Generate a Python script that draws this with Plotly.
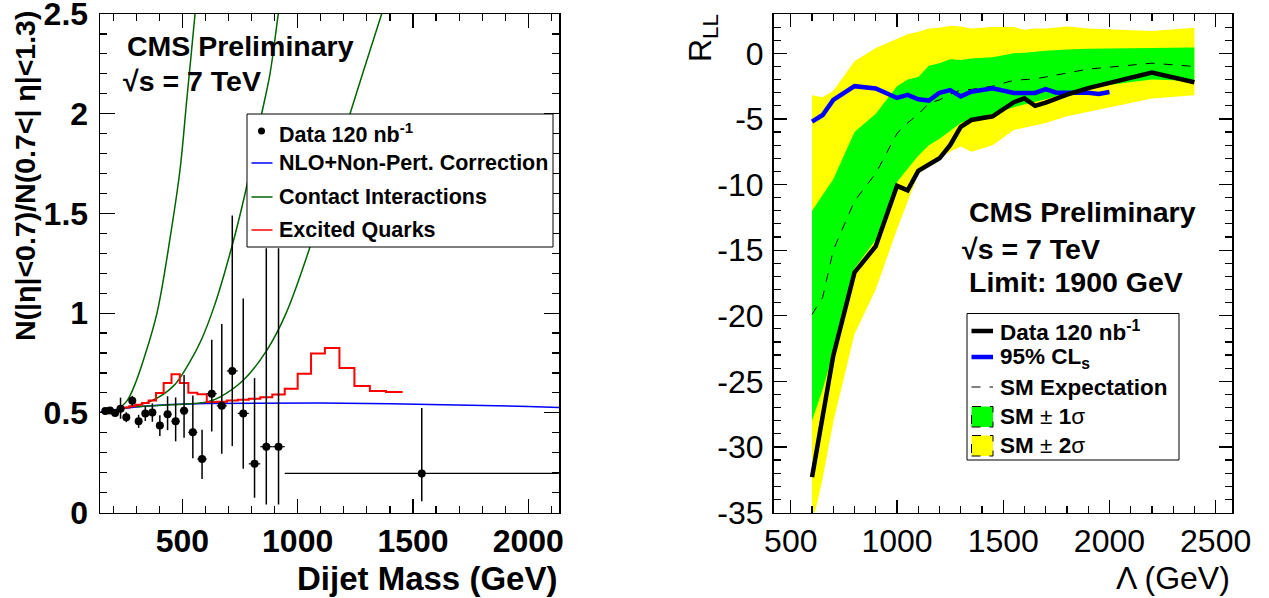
import plotly.graph_objects as go

W, H = 1269, 598

# ---------------- Left panel data ----------------
mass = [166, 186.5, 208.5, 232, 257, 283, 310.5, 339.5, 370, 402.5, 436, 471, 507.5,
        545.5, 585.5, 627.5, 671, 716.5, 764, 813, 864, 917, 1538]
mass_halfwidth = [10, 10.5, 11.5, 12, 13, 13, 14.5, 14.5, 16, 16.5, 17, 18, 18.5,
                  19.5, 20.5, 21.5, 22, 23.5, 24, 25, 26, 27, 594]
ratio = [0.509, 0.512, 0.499, 0.52, 0.478, 0.56, 0.457, 0.496, 0.501, 0.436, 0.493, 0.457, 0.51,
         0.402, 0.268, 0.596, 0.535, 0.71, 0.497, 0.244, 0.33, 0.33, 0.196]
ratio_err_up = [0.01, 0.012, 0.015, 0.056, 0.025, 0.025, 0.033, 0.037, 0.046, 0.052, 0.09, 0.12, 0.18,
                0.185, 0.147, 0.27, 0.41, 0.78, 0.576, 0.43, 0.995, 0.995, 0.328]
ratio_err_dn = [0.01, 0.012, 0.015, 0.05, 0.025, 0.025, 0.033, 0.037, 0.046, 0.052, 0.08, 0.1, 0.135,
                0.13, 0.1, 0.19, 0.24, 0.377, 0.278, 0.17, 0.29, 0.29, 0.139]

nlo_mass = [145, 200, 250, 330, 450, 600, 800, 1100, 1400, 1700, 2000, 2140]
nlo_ratio = [0.505, 0.515, 0.523, 0.533, 0.542, 0.547, 0.549, 0.549, 0.546, 0.54, 0.532, 0.526]

ci1_mass = [220, 260, 290, 330, 390, 450, 490, 520, 555, 575]
ci1_ratio = [0.518, 0.56, 0.63, 0.76, 1.0, 1.4, 1.72, 2.08, 2.5, 2.78]
ci2_mass = [250, 330, 400, 470, 530, 580, 640, 714, 772, 844, 880, 916, 935]
ci2_ratio = [0.524, 0.545, 0.58, 0.645, 0.75, 0.86, 1.04, 1.33, 1.6, 2.0, 2.2, 2.5, 2.65]
ci3_mass = [300, 450, 530, 606, 663, 764, 866, 950, 1053, 1140, 1227, 1364, 1400]
ci3_ratio = [0.53, 0.54, 0.545, 0.554, 0.579, 0.663, 0.813, 1.0, 1.33, 1.66, 2.0, 2.5, 2.63]

q_edges = [220, 244, 270, 296, 325, 354, 386, 419, 453, 489, 526, 565, 606, 649, 693, 740,
           788, 838, 890, 944, 1000, 1058, 1118, 1181, 1246, 1313, 1383, 1455]
q_ratio = [0.52, 0.527, 0.533, 0.54, 0.549, 0.562, 0.599, 0.649, 0.693, 0.649, 0.60, 0.593,
           0.554, 0.556, 0.562, 0.566, 0.571, 0.578, 0.592, 0.621, 0.696, 0.797, 0.825,
           0.725, 0.634, 0.609, 0.604]

# ---------------- Right panel data ----------------
lam = [600, 650, 700, 800, 900, 1000, 1050, 1100, 1150, 1200, 1250, 1300, 1350, 1450,
       1550, 1600, 1650, 1700, 1800, 1900, 2200, 2400]
sm_exp = [-19.9, -18.6, -15.0, -11.25, -9.15, -6.1, -5.3, -4.65, -3.8, -3.55, -3.1, -2.8,
          -2.75, -2.5, -2.05, -2.0, -1.95, -1.8, -1.5, -1.2, -0.75, -1.0]
sig1_up = [-12.0, -10.8, -9.6, -6.0, -4.6, -2.5, -2.0, -1.8, -0.95, -0.75, -0.45, -0.5,
           -0.4, -0.3, 0.0, 0.05, 0.15, 0.2, 0.3, 0.35, 0.4, 0.45]
sig1_dn = [-28.0, -25.6, -22.8, -16.4, -14.2, -9.8, -8.8, -7.8, -7.0, -6.5, -5.9, -5.3,
           -5.0, -4.6, -4.1, -3.9, -3.7, -3.5, -3.0, -2.6, -2.0, -2.1]
sig2_up = [-3.2, -3.35, -2.85, -0.6, 0.4, 1.07, 1.45, 1.65, 1.9, 1.95, 2.1, 2.05,
           1.9, 2.0, 2.0, 1.8, 1.9, 1.9, 2.05, 1.9, 1.7, 1.95]
sig2_dn = [-36.0, -32.4, -28.1, -21.4, -18.0, -13.4, -11.3, -9.2, -8.6, -8.0, -7.5, -7.1,
           -7.5, -7.0, -5.85, -5.7, -5.5, -5.3, -4.8, -4.45, -3.45, -3.2]

data_lam = [600, 700, 800, 900, 1000, 1050, 1100, 1200, 1250, 1300, 1350, 1450, 1550,
            1600, 1650, 1700, 1800, 1900, 2200, 2400]
data_rll = [-32.3, -23.05, -16.7, -14.7, -10.1, -10.45, -8.96, -8.0, -7.0, -5.6, -5.08,
            -4.8, -3.72, -3.43, -4.0, -3.75, -3.15, -2.65, -1.47, -2.2]

cls_lam = [600, 650, 700, 800, 900, 1000, 1050, 1100, 1150, 1200, 1250, 1300, 1350, 1450,
           1550, 1650, 1700, 1750, 1800, 1900, 1950, 2000]
cls_rll = [-5.2, -4.7, -3.55, -2.5, -2.68, -3.4, -3.17, -3.5, -3.6, -3.0, -2.8, -3.28,
           -2.92, -2.67, -3.02, -3.02, -2.72, -3.0, -3.0, -3.0, -3.1, -2.95]

right_yticks = [-35, -30, -25, -20, -15, -10, -5, 0]

# ---------------- Figure ----------------
FONT = "Liberation Sans"
fig = go.Figure()

def px(x):
    return x / W

def py(y):
    return 1 - y / H

# left traces
fig.add_trace(go.Scatter(x=nlo_mass, y=nlo_ratio, mode="lines", line=dict(color="#0000ff", width=1.5),
                         xaxis="x", yaxis="y", showlegend=False))
for cm, cr in [(ci1_mass, ci1_ratio), (ci2_mass, ci2_ratio), (ci3_mass, ci3_ratio)]:
    fig.add_trace(go.Scatter(x=cm, y=cr, mode="lines", line=dict(color="#006400", width=1.5, shape="spline"),
                             xaxis="x", yaxis="y", showlegend=False))
fig.add_trace(go.Scatter(x=q_edges, y=q_ratio + [q_ratio[-1]], mode="lines",
                         line=dict(color="#ff0000", width=2, shape="hv"),
                         xaxis="x", yaxis="y", showlegend=False))
fig.add_trace(go.Scatter(x=mass, y=ratio, mode="markers",
                         marker=dict(color="black", size=8),
                         error_y=dict(type="data", symmetric=False, array=ratio_err_up,
                                      arrayminus=ratio_err_dn, color="black", thickness=1.5, width=0),
                         error_x=dict(type="data", array=mass_halfwidth, color="black", thickness=1.2, width=0),
                         xaxis="x", yaxis="y", showlegend=False, cliponaxis=True))

# right traces
fig.add_trace(go.Scatter(x=lam + lam[::-1], y=sig2_up + sig2_dn[::-1], fill="toself",
                         fillcolor="#ffff00", line=dict(width=0), mode="lines",
                         xaxis="x2", yaxis="y2", showlegend=False))
fig.add_trace(go.Scatter(x=lam + lam[::-1], y=sig1_up + sig1_dn[::-1], fill="toself",
                         fillcolor="#00ff00", line=dict(width=0), mode="lines",
                         xaxis="x2", yaxis="y2", showlegend=False))
fig.add_trace(go.Scatter(x=lam, y=sm_exp, mode="lines", line=dict(color="black", width=1, dash="dash"),
                         xaxis="x2", yaxis="y2", showlegend=False))
fig.add_trace(go.Scatter(x=cls_lam, y=cls_rll, mode="lines", line=dict(color="#0000ff", width=4.5),
                         xaxis="x2", yaxis="y2", showlegend=False))
fig.add_trace(go.Scatter(x=data_lam, y=data_rll, mode="lines", line=dict(color="black", width=4.5),
                         xaxis="x2", yaxis="y2", showlegend=False))

ydom = [py(512.5), py(14)]
common = dict(showline=True, linecolor="black", linewidth=1.5, mirror="allticks",
              ticks="inside", showgrid=False, zeroline=False, tickcolor="black", tickwidth=1.2,
              ticklabeloverflow="allow", automargin=False)

fig.update_layout(
    width=W, height=H, margin=dict(l=0, r=0, t=0, b=0, autoexpand=False),
    plot_bgcolor="white", paper_bgcolor="white", showlegend=False, hovermode=False,
    xaxis=dict(domain=[px(100), px(559)], range=[143, 2133], tickvals=[500, 1000, 1500, 2000],
               ticklen=14, minor=dict(dtick=100, tick0=0, ticklen=7, ticks="inside", tickcolor="black"),
               tickfont=dict(family=FONT, size=32, color="black", weight="bold"),
               anchor="y", **common),
    yaxis=dict(domain=ydom, range=[0, 2.5], tickvals=[0, 0.5, 1, 1.5, 2, 2.5],
               ticktext=["0", "0.5", "1", "1.5", "2", "2.5"],
               ticklen=15, minor=dict(dtick=0.1, tick0=0, ticklen=7, ticks="inside", tickcolor="black"),
               tickfont=dict(family=FONT, size=32, color="black", weight="bold"),
               anchor="x", ticklabelstandoff=4, **common),
    xaxis2=dict(domain=[px(773.5), px(1232)], range=[418.6, 2577], tickvals=[500, 1000, 1500, 2000, 2500],
                ticklen=13, minor=dict(dtick=100, tick0=0, ticklen=7, ticks="inside", tickcolor="black"),
                tickfont=dict(family=FONT, size=32, color="black"),
                anchor="y2", **common),
    yaxis2=dict(domain=ydom, range=[-35, 3], tickvals=right_yticks,
                ticktext=[str(v) for v in right_yticks],
                ticklen=13, minor=dict(dtick=1, tick0=0, ticklen=7, ticks="inside", tickcolor="black"),
                tickfont=dict(family=FONT, size=32, color="black"),
                anchor="x2", ticklabelstandoff=2, **common),
)

shapes = []
ann = []

def text(x, y, s, size, bold=True, xanchor="left", yanchor="middle", angle=0):
    ann.append(dict(x=px(x), y=py(y), xref="paper", yref="paper", text=s, showarrow=False,
                    xanchor=xanchor, yanchor=yanchor, textangle=angle,
                    font=dict(family=FONT, size=size, color="black", weight="bold" if bold else "normal")))

# Left panel texts
text(125, 45.5, "CMS Preliminary", 28.5)
text(121, 81.5, "√s = 7 TeV", 28.5)
text(559, 578, "Dijet Mass (GeV)", 33, xanchor="right")
text(25, 9, "N(|η|<0.7)/N(0.7<| η|<1.3)", 28.5, xanchor="center", yanchor="top", angle=-90)

# Left legend
shapes.append(dict(type="rect", xref="paper", yref="paper", x0=px(247), x1=px(553), y0=py(247), y1=py(114),
                   line=dict(color="black", width=1), fillcolor="white", layer="above"))
leg_rows = [133, 163, 197, 230]
shapes.append(dict(type="circle", xref="paper", yref="paper", x0=px(258), x1=px(265), y0=py(134.5), y1=py(127.5),
                   line=dict(color="black", width=0), fillcolor="black", layer="above"))
for yy, col in zip(leg_rows[1:], ["#0000ff", "#006400", "#ff0000"]):
    shapes.append(dict(type="line", xref="paper", yref="paper", x0=px(251.5), x1=px(272.5), y0=py(yy), y1=py(yy),
                       line=dict(color=col, width=1.5), layer="above"))
text(277, 133, "Data 120 nb<sup>-1</sup>", 21.5)
text(277, 163, "NLO+Non-Pert. Correction", 21.5)
text(277, 197, "Contact Interactions", 21.5)
text(277, 230, "Excited Quarks", 21.5)

# Right panel texts
text(967, 212, "CMS Preliminary", 28.5)
text(960, 249, "√s = 7 TeV", 28.5)
text(967, 282, "Limit: 1900 GeV", 28.5)
text(1232, 578, "Λ (GeV)", 32, bold=False, xanchor="right")
text(702, 12, "R<sub>LL</sub>", 32, bold=False, xanchor="center", yanchor="top", angle=-90)

# Right legend
shapes.append(dict(type="rect", xref="paper", yref="paper", x0=px(967), x1=px(1179), y0=py(460), y1=py(313.5),
                   line=dict(color="black", width=1), fillcolor="white", layer="above"))
shapes.append(dict(type="line", xref="paper", yref="paper", x0=px(971.5), x1=px(993), y0=py(331), y1=py(331),
                   line=dict(color="black", width=4.5), layer="above"))
shapes.append(dict(type="line", xref="paper", yref="paper", x0=px(971.5), x1=px(993), y0=py(357), y1=py(357),
                   line=dict(color="#0000ff", width=4.5), layer="above"))
shapes.append(dict(type="line", xref="paper", yref="paper", x0=px(971.5), x1=px(993), y0=py(387), y1=py(387),
                   line=dict(color="black", width=1, dash="dash"), layer="above"))
shapes.append(dict(type="rect", xref="paper", yref="paper", x0=px(971.5), x1=px(993), y0=py(427), y1=py(406.5),
                   line=dict(color="black", width=1, dash="dash"), fillcolor="#00ff00", layer="above"))
shapes.append(dict(type="rect", xref="paper", yref="paper", x0=px(971.5), x1=px(993), y0=py(456), y1=py(435.5),
                   line=dict(color="black", width=1, dash="dash"), fillcolor="#ffff00", layer="above"))
text(997.5, 330.5, "Data 120 nb<sup>-1</sup>", 22.5)
text(997.5, 357.5, "95% CL<sub>s</sub>", 22.5)
text(997.5, 387, "SM Expectation", 22.5)
text(997.5, 416.5, "SM <span style='font-weight:normal'>±</span> 1<span style='font-weight:normal'>σ</span>", 22.5)
text(997.5, 445.5, "SM <span style='font-weight:normal'>±</span> 2<span style='font-weight:normal'>σ</span>", 22.5)

fig.update_layout(shapes=shapes, annotations=ann)
# remove the default 8px page margin so the 1269x598 figure fills the window exactly
fig.write_html("out.html", config={"displayModeBar": False, "staticPlot": True},
               post_script="document.body.style.margin='0px';document.body.style.overflow='hidden';")
